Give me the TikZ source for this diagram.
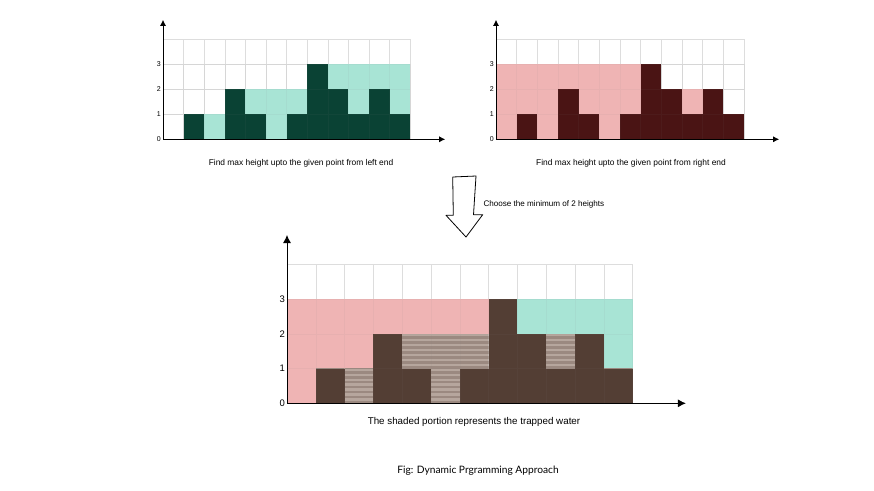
\documentclass[tikz,border=0pt]{standalone}
\usepackage{fontspec}
\setmainfont{Lato}
\newfontfamily\chartfont{Liberation Sans}
\usepackage{tikz}
\usetikzlibrary{arrows.meta}
\definecolor{bargreen}{HTML}{0A4234}
\definecolor{maxteal}{HTML}{A8E4D5}
\definecolor{maxpink}{HTML}{EFB4B4}
\definecolor{barmaroon}{HTML}{4A1414}
\definecolor{barbrown}{HTML}{533E34}
\definecolor{stripelight}{HTML}{B6A69D}
\definecolor{stripedark}{HTML}{9B8980}
\definecolor{gridgray}{HTML}{DDDDDD}

\begin{document}
\begin{tikzpicture}[x=1pt,y=-1pt,
    gridline/.style={draw=gridgray, line width=0.6pt, step=1},
    overline/.style={draw=gray, line width=0.5pt, step=1, opacity=0.07},
    axis/.style={draw, line width=0.9pt, -{Latex[length=6pt,width=6pt]}},
    tick/.style={font=\chartfont\fontsize{7}{8}\selectfont, left, inner sep=2pt},
    bigtick/.style={font=\chartfont\fontsize{9.5}{11}\selectfont, left, inner sep=2pt},
    caption/.style={font=\chartfont\fontsize{8.4}{10}\selectfont},
    hollow/.style={draw, line width=0.8pt, line join=round, fill=white}
]
\useasboundingbox (0,0) rectangle (874,490);

% max from the left
\begin{scope}[shift={(163,139.3)}, x=20.6pt, y=25pt]
  \draw[gridline] (0,0) grid (12,4);
  \foreach \i/\h/\m in {0/0/0,1/1/1,2/0/1,3/2/2,4/1/2,5/0/2,6/1/2,7/3/3,8/2/3,9/1/3,10/2/3,11/1/3}{
    \fill[maxteal] (\i,\h) rectangle (\i+1,\m);
    \fill[bargreen] (\i,0) rectangle (\i+1,\h);
  }
  \draw[overline] (0,0) grid (12,3);
  \draw[axis] (0,0) -- (13.7,0);
  \draw[axis] (0,0) -- (0,4.78);
  \foreach \k in {0,...,3} \node[tick] at (0,\k) {\k};
\end{scope}
\node[caption] (leftcap) at (301,163) {Find max height upto the given point from left end};

% max from the right
\begin{scope}[shift={(496,139.3)}, x=20.67pt, y=25pt]
  \draw[gridline] (0,0) grid (12,4);
  \foreach \i/\h/\m in {0/0/3,1/1/3,2/0/3,3/2/3,4/1/3,5/0/3,6/1/3,7/3/3,8/2/2,9/1/2,10/2/2,11/1/1}{
    \fill[maxpink] (\i,\h) rectangle (\i+1,\m);
    \fill[barmaroon] (\i,0) rectangle (\i+1,\h);
  }
  \draw[overline] (0,0) grid (12,3);
  \draw[axis] (0,0) -- (13.7,0);
  \draw[axis] (0,0) -- (0,4.78);
  \foreach \k in {0,...,3} \node[tick] at (0,\k) {\k};
\end{scope}
\node[caption] (rightcap) at (631,163) {Find max height upto the given point from right end};

% hand drawn arrow
\draw[hollow] (452.7,177) -- (476,176) -- (473.5,214.7) -- (482.7,214.7)
  -- (466,237) -- (446,215.3) -- (453.3,215.3) -- cycle;
\node[caption, anchor=west, font=\chartfont\fontsize{8.1}{10}\selectfont] (mincap) at (480,204) {Choose the minimum of 2 heights};

% result
\begin{scope}[shift={(287,403.3)}, x=28.8pt, y=34.7pt]
  \draw[gridline] (0,0) grid (12,4);
  \foreach \i/\h/\m/\c in {0/0/0/maxpink,1/1/1/maxpink,2/0/1/maxpink,3/2/2/maxpink,4/1/2/maxpink,5/0/2/maxpink,6/1/2/maxpink,7/3/3/maxpink,8/2/2/maxteal,9/1/2/maxteal,10/2/2/maxteal,11/1/1/maxteal}{
    \fill[\c] (\i,\m) rectangle (\i+1,3);
    \begin{scope}
      \clip (\i,\h) rectangle (\i+1,\m);
      \fill[stripelight] (\i,\h) rectangle (\i+1,\m);
      \foreach \k in {0,...,13} \fill[stripedark] (\i,\k/7) rectangle (\i+1,\k/7+1/14);
    \end{scope}
    \fill[barbrown] (\i,0) rectangle (\i+1,\h);
  }
  \draw[overline] (0,0) grid (12,3);
  \draw[axis, -{Latex[length=8pt,width=8pt]}] (0,0) -- (13.85,0);
  \draw[axis, -{Latex[length=8pt,width=8pt]}] (0,0) -- (0,4.85);
  \foreach \k in {0,...,3} \node[bigtick] at (0,\k) {\k};
\end{scope}
\node[caption, font=\chartfont\fontsize{9.8}{11}\selectfont] (watercap) at (474,421.7) {The shaded portion represents the trapped water};

\node[font=\fontsize{10.2}{12}\selectfont] (figcap) at (478,471) {Fig: Dynamic Prgramming Approach};
\end{tikzpicture}
\end{document}
